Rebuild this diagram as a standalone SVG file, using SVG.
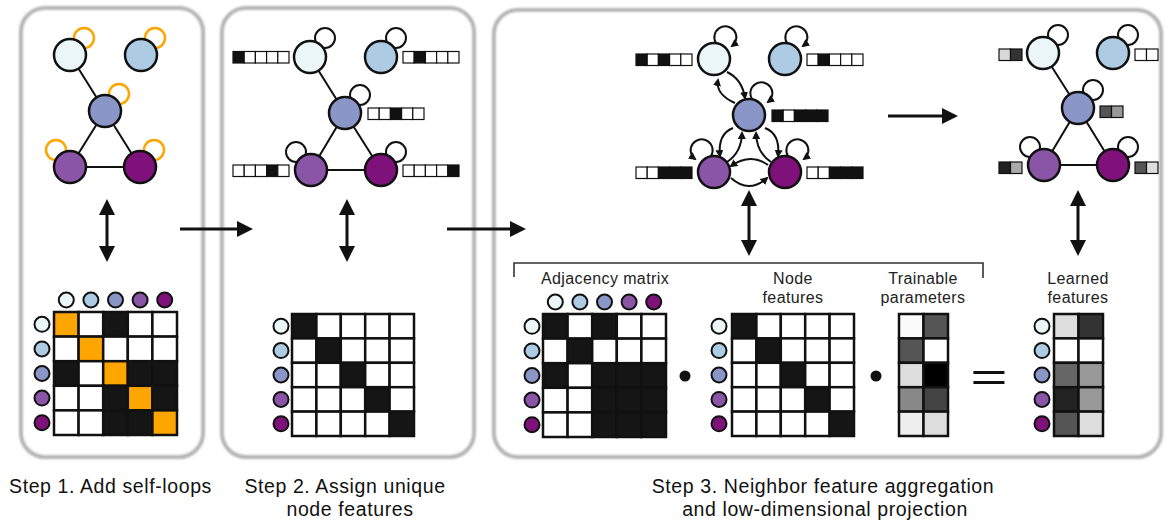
<svg xmlns="http://www.w3.org/2000/svg" width="1166" height="520" viewBox="0 0 1166 520">
<style>
.panel{fill:#fff;stroke:#b3b3b3;stroke-width:4}
.nd{stroke:#111;stroke-width:2.5}
.a{fill:#eaf6f8}.b{fill:#adcbe2}.c{fill:#8a96c8}.d{fill:#8a55a6}.e{fill:#7f127a}
.edge{stroke:#111;stroke-width:2;fill:none}
.oloop{fill:none;stroke:#ffa500;stroke-width:2.5}
.wloop{fill:#fff;stroke:#111;stroke-width:2}
.fv rect{stroke:#111;stroke-width:1.2;fill:#fff}
.fv rect.k{fill:#111}
.mx rect{stroke:#111;stroke-width:2.5;fill:#fff}
.mx rect.k{fill:#151515}
.mx rect.o{fill:#ffa500}
.sc{stroke:#111;stroke-width:2}
.arr{stroke:#111;stroke-width:3;fill:none}
.carr{stroke:#111;stroke-width:2;fill:none;marker-end:url(#sm)}
.lbl{font-family:"Liberation Sans",Arial,sans-serif;font-size:16px;letter-spacing:0.4px;fill:#222;text-anchor:middle}
.cap{font-family:"Liberation Sans",Arial,sans-serif;font-size:19.5px;letter-spacing:0.6px;fill:#111;text-anchor:middle}
</style>
<defs>
<filter id="soft" x="-5%" y="-5%" width="110%" height="110%"><feGaussianBlur stdDeviation="0.9"/></filter>
<marker id="big" viewBox="0 0 16 16" refX="6" refY="8" markerWidth="16" markerHeight="16" markerUnits="userSpaceOnUse" orient="auto-start-reverse"><path d="M0,0 L16,8 L0,16 z" fill="#111"/></marker>
<marker id="sm" viewBox="0 0 8 8" refX="6" refY="4" markerWidth="8" markerHeight="8" markerUnits="userSpaceOnUse" orient="auto"><path d="M0,0 L8,4 L0,8 z" fill="#111"/></marker>
</defs>
<rect width="1166" height="520" fill="#fff"/>
<g id="panels">
<rect class="panel" x="21" y="8" width="182" height="449" rx="24" filter="url(#soft)"/>
<rect class="panel" x="222" y="8" width="252" height="449" rx="24" filter="url(#soft)"/>
<rect class="panel" x="494" y="10" width="667" height="447" rx="24" filter="url(#soft)"/>
</g>

<g id="connectors">
<line class="arr" x1="180" y1="229" x2="243" y2="229" marker-end="url(#big)"/>
<line class="arr" x1="447" y1="229" x2="516" y2="229" marker-end="url(#big)"/>
<line class="arr" x1="888" y1="116" x2="948" y2="116" marker-end="url(#big)"/>
<line class="arr" x1="107" y1="209" x2="107" y2="252" marker-start="url(#big)" marker-end="url(#big)"/>
<line class="arr" x1="347" y1="209" x2="347" y2="252" marker-start="url(#big)" marker-end="url(#big)"/>
<line class="arr" x1="749" y1="200" x2="749" y2="246" marker-start="url(#big)" marker-end="url(#big)"/>
<line class="arr" x1="1078" y1="200" x2="1078" y2="246" marker-start="url(#big)" marker-end="url(#big)"/>
<path d="M514 277 V263 H983 V278" fill="none" stroke="#333" stroke-width="1.6"/>
</g>

<g id="step1-graph">
<circle class="oloop" cx="84" cy="38" r="10"/>
<circle class="oloop" cx="155" cy="38" r="10"/>
<circle class="oloop" cx="119" cy="94" r="10"/>
<circle class="oloop" cx="56" cy="150" r="10"/>
<circle class="oloop" cx="154" cy="150" r="10"/>
<path class="edge" d="M70 55 L105 111 L70 167 L140 167 L105 111"/>
<circle class="nd a" cx="70" cy="55" r="16"/>
<circle class="nd b" cx="141" cy="55" r="16"/>
<circle class="nd c" cx="105" cy="111" r="16"/>
<circle class="nd d" cx="70" cy="167" r="16"/>
<circle class="nd e" cx="140" cy="167" r="16"/>
</g>

<g id="step1-matrix">
<g class="mx">
<rect class="o" x="54" y="312" width="24.6" height="24.6"/><rect x="78.6" y="312" width="24.6" height="24.6"/><rect class="k" x="103.2" y="312" width="24.6" height="24.6"/><rect x="127.8" y="312" width="24.6" height="24.6"/><rect x="152.4" y="312" width="24.6" height="24.6"/>
<rect x="54" y="336.6" width="24.6" height="24.6"/><rect class="o" x="78.6" y="336.6" width="24.6" height="24.6"/><rect x="103.2" y="336.6" width="24.6" height="24.6"/><rect x="127.8" y="336.6" width="24.6" height="24.6"/><rect x="152.4" y="336.6" width="24.6" height="24.6"/>
<rect class="k" x="54" y="361.2" width="24.6" height="24.6"/><rect x="78.6" y="361.2" width="24.6" height="24.6"/><rect class="o" x="103.2" y="361.2" width="24.6" height="24.6"/><rect class="k" x="127.8" y="361.2" width="24.6" height="24.6"/><rect class="k" x="152.4" y="361.2" width="24.6" height="24.6"/>
<rect x="54" y="385.8" width="24.6" height="24.6"/><rect x="78.6" y="385.8" width="24.6" height="24.6"/><rect class="k" x="103.2" y="385.8" width="24.6" height="24.6"/><rect class="o" x="127.8" y="385.8" width="24.6" height="24.6"/><rect class="k" x="152.4" y="385.8" width="24.6" height="24.6"/>
<rect x="54" y="410.4" width="24.6" height="24.6"/><rect x="78.6" y="410.4" width="24.6" height="24.6"/><rect class="k" x="103.2" y="410.4" width="24.6" height="24.6"/><rect class="k" x="127.8" y="410.4" width="24.6" height="24.6"/><rect class="o" x="152.4" y="410.4" width="24.6" height="24.6"/>
</g>
<circle class="sc a" cx="66.3" cy="300" r="7.5"/><circle class="sc b" cx="90.9" cy="300" r="7.5"/><circle class="sc c" cx="115.5" cy="300" r="7.5"/><circle class="sc d" cx="140.1" cy="300" r="7.5"/><circle class="sc e" cx="164.7" cy="300" r="7.5"/>
<circle class="sc a" cx="42" cy="324.3" r="7.5"/><circle class="sc b" cx="42" cy="348.9" r="7.5"/><circle class="sc c" cx="42" cy="373.5" r="7.5"/><circle class="sc d" cx="42" cy="398.1" r="7.5"/><circle class="sc e" cx="42" cy="422.7" r="7.5"/>
</g>

<g id="step2-graph">
<circle class="wloop" cx="325" cy="38" r="10"/>
<circle class="wloop" cx="396" cy="38" r="10"/>
<circle class="wloop" cx="360" cy="95" r="10"/>
<circle class="wloop" cx="296" cy="152" r="10"/>
<circle class="wloop" cx="396" cy="152" r="10"/>
<path class="edge" d="M310 57 L345 113 L311 170 L381 170 L345 113"/>
<circle class="nd a" cx="310" cy="57" r="16"/>
<circle class="nd b" cx="381" cy="57" r="16"/>
<circle class="nd c" cx="345" cy="113" r="16"/>
<circle class="nd d" cx="311" cy="170" r="16"/>
<circle class="nd e" cx="381" cy="170" r="16"/>
<g class="fv">
<rect class="k" x="233" y="51.5" width="11.2" height="11.5"/><rect x="244.2" y="51.5" width="11.2" height="11.5"/><rect x="255.4" y="51.5" width="11.2" height="11.5"/><rect x="266.6" y="51.5" width="11.2" height="11.5"/><rect x="277.8" y="51.5" width="11.2" height="11.5"/>
<rect x="403" y="51.5" width="11.2" height="11.5"/><rect class="k" x="414.2" y="51.5" width="11.2" height="11.5"/><rect x="425.4" y="51.5" width="11.2" height="11.5"/><rect x="436.6" y="51.5" width="11.2" height="11.5"/><rect x="447.8" y="51.5" width="11.2" height="11.5"/>
<rect x="368" y="108" width="11.2" height="11.5"/><rect x="379.2" y="108" width="11.2" height="11.5"/><rect class="k" x="390.4" y="108" width="11.2" height="11.5"/><rect x="401.6" y="108" width="11.2" height="11.5"/><rect x="412.8" y="108" width="11.2" height="11.5"/>
<rect x="233" y="165" width="11.2" height="11.5"/><rect x="244.2" y="165" width="11.2" height="11.5"/><rect x="255.4" y="165" width="11.2" height="11.5"/><rect class="k" x="266.6" y="165" width="11.2" height="11.5"/><rect x="277.8" y="165" width="11.2" height="11.5"/>
<rect x="403" y="165" width="11.2" height="11.5"/><rect x="414.2" y="165" width="11.2" height="11.5"/><rect x="425.4" y="165" width="11.2" height="11.5"/><rect x="436.6" y="165" width="11.2" height="11.5"/><rect class="k" x="447.8" y="165" width="11.2" height="11.5"/>
</g>
</g>

<g id="step2-matrix">
<g class="mx">
<rect class="k" x="292" y="314" width="24.4" height="24.4"/><rect x="316.4" y="314" width="24.4" height="24.4"/><rect x="340.8" y="314" width="24.4" height="24.4"/><rect x="365.2" y="314" width="24.4" height="24.4"/><rect x="389.6" y="314" width="24.4" height="24.4"/>
<rect x="292" y="338.4" width="24.4" height="24.4"/><rect class="k" x="316.4" y="338.4" width="24.4" height="24.4"/><rect x="340.8" y="338.4" width="24.4" height="24.4"/><rect x="365.2" y="338.4" width="24.4" height="24.4"/><rect x="389.6" y="338.4" width="24.4" height="24.4"/>
<rect x="292" y="362.8" width="24.4" height="24.4"/><rect x="316.4" y="362.8" width="24.4" height="24.4"/><rect class="k" x="340.8" y="362.8" width="24.4" height="24.4"/><rect x="365.2" y="362.8" width="24.4" height="24.4"/><rect x="389.6" y="362.8" width="24.4" height="24.4"/>
<rect x="292" y="387.2" width="24.4" height="24.4"/><rect x="316.4" y="387.2" width="24.4" height="24.4"/><rect x="340.8" y="387.2" width="24.4" height="24.4"/><rect class="k" x="365.2" y="387.2" width="24.4" height="24.4"/><rect x="389.6" y="387.2" width="24.4" height="24.4"/>
<rect x="292" y="411.6" width="24.4" height="24.4"/><rect x="316.4" y="411.6" width="24.4" height="24.4"/><rect x="340.8" y="411.6" width="24.4" height="24.4"/><rect x="365.2" y="411.6" width="24.4" height="24.4"/><rect class="k" x="389.6" y="411.6" width="24.4" height="24.4"/>
</g>
<circle class="sc a" cx="281" cy="326.2" r="7.5"/><circle class="sc b" cx="281" cy="350.6" r="7.5"/><circle class="sc c" cx="281" cy="375" r="7.5"/><circle class="sc d" cx="281" cy="399.4" r="7.5"/><circle class="sc e" cx="281" cy="423.8" r="7.5"/>
</g>

<g id="step3-graph">
<path class="carr" d="M716 43 A11 11 0 1 1 732 46"/>
<path class="carr" d="M787 43 A11 11 0 1 1 803 46"/>
<path class="carr" d="M752 99 A11 11 0 1 1 768 102"/>
<path class="carr" d="M711 156 A11 11 0 1 0 695 159"/>
<path class="carr" d="M788 156 A11 11 0 1 1 804 159"/>
<path class="carr" d="M735 103 Q715.5 94.5 718 80"/>
<path class="carr" d="M727 72 Q742 79 745 98"/>
<path class="carr" d="M733 128 Q717.5 134 720 156"/>
<path class="carr" d="M727 162 Q741.5 152.5 742 133"/>
<path class="carr" d="M771 162 Q756.5 152.5 756 133"/>
<path class="carr" d="M765 128 Q780.5 134 778 156"/>
<path class="carr" d="M768 165 Q750.5 152.5 731 166"/>
<path class="carr" d="M731 178 Q749 194 767 178"/>
<circle class="nd a" cx="714" cy="59" r="16"/>
<circle class="nd b" cx="785" cy="59" r="16"/>
<circle class="nd c" cx="749" cy="115" r="16"/>
<circle class="nd d" cx="714" cy="172" r="16"/>
<circle class="nd e" cx="785" cy="172" r="16"/>
<g class="fv">
<rect class="k" x="636" y="54" width="11.2" height="11.5"/><rect x="647.2" y="54" width="11.2" height="11.5"/><rect class="k" x="658.4" y="54" width="11.2" height="11.5"/><rect x="669.6" y="54" width="11.2" height="11.5"/><rect x="680.8" y="54" width="11.2" height="11.5"/>
<rect x="807" y="54" width="11.2" height="11.5"/><rect class="k" x="818.2" y="54" width="11.2" height="11.5"/><rect x="829.4" y="54" width="11.2" height="11.5"/><rect x="840.6" y="54" width="11.2" height="11.5"/><rect x="851.8" y="54" width="11.2" height="11.5"/>
<rect class="k" x="772" y="110" width="11.2" height="11.5"/><rect x="783.2" y="110" width="11.2" height="11.5"/><rect class="k" x="794.4" y="110" width="11.2" height="11.5"/><rect class="k" x="805.6" y="110" width="11.2" height="11.5"/><rect class="k" x="816.8" y="110" width="11.2" height="11.5"/>
<rect x="636" y="167" width="11.2" height="11.5"/><rect x="647.2" y="167" width="11.2" height="11.5"/><rect class="k" x="658.4" y="167" width="11.2" height="11.5"/><rect class="k" x="669.6" y="167" width="11.2" height="11.5"/><rect class="k" x="680.8" y="167" width="11.2" height="11.5"/>
<rect x="807" y="167" width="11.2" height="11.5"/><rect x="818.2" y="167" width="11.2" height="11.5"/><rect class="k" x="829.4" y="167" width="11.2" height="11.5"/><rect class="k" x="840.6" y="167" width="11.2" height="11.5"/><rect class="k" x="851.8" y="167" width="11.2" height="11.5"/>
</g>
</g>

<g id="result-graph">
<circle class="wloop" cx="1058" cy="35" r="10"/>
<circle class="wloop" cx="1128" cy="35" r="10"/>
<circle class="wloop" cx="1093" cy="90" r="10"/>
<circle class="wloop" cx="1030" cy="147" r="10"/>
<circle class="wloop" cx="1128" cy="147" r="10"/>
<path class="edge" d="M1043 53 L1078 108 L1044 165 L1113 165 L1078 108"/>
<circle class="nd a" cx="1043" cy="53" r="16"/>
<circle class="nd b" cx="1113" cy="53" r="16"/>
<circle class="nd c" cx="1078" cy="108" r="16"/>
<circle class="nd d" cx="1044" cy="165" r="16"/>
<circle class="nd e" cx="1113" cy="165" r="16"/>
<g class="fv">
<rect x="999" y="49" width="11.5" height="11.5" style="fill:#d9d9d9"/><rect x="1010.5" y="49" width="11.5" height="11.5" style="fill:#333"/>
<rect x="1135" y="49" width="11.5" height="11.5"/><rect x="1146.5" y="49" width="11.5" height="11.5"/>
<rect x="1100" y="106" width="11.5" height="11.5" style="fill:#555"/><rect x="1111.5" y="106" width="11.5" height="11.5" style="fill:#999"/>
<rect x="999" y="162" width="11.5" height="11.5" style="fill:#222"/><rect x="1010.5" y="162" width="11.5" height="11.5" style="fill:#aaa"/>
<rect x="1135" y="162" width="11.5" height="11.5" style="fill:#555"/><rect x="1146.5" y="162" width="11.5" height="11.5" style="fill:#ddd"/>
</g>
</g>

<g id="adjacency-matrix">
<text class="lbl" x="605" y="284">Adjacency matrix</text>
<g class="mx">
<rect class="k" x="543" y="314" width="24.6" height="24.6"/><rect x="567.6" y="314" width="24.6" height="24.6"/><rect class="k" x="592.2" y="314" width="24.6" height="24.6"/><rect x="616.8" y="314" width="24.6" height="24.6"/><rect x="641.4" y="314" width="24.6" height="24.6"/>
<rect x="543" y="338.6" width="24.6" height="24.6"/><rect class="k" x="567.6" y="338.6" width="24.6" height="24.6"/><rect x="592.2" y="338.6" width="24.6" height="24.6"/><rect x="616.8" y="338.6" width="24.6" height="24.6"/><rect x="641.4" y="338.6" width="24.6" height="24.6"/>
<rect class="k" x="543" y="363.2" width="24.6" height="24.6"/><rect x="567.6" y="363.2" width="24.6" height="24.6"/><rect class="k" x="592.2" y="363.2" width="24.6" height="24.6"/><rect class="k" x="616.8" y="363.2" width="24.6" height="24.6"/><rect class="k" x="641.4" y="363.2" width="24.6" height="24.6"/>
<rect x="543" y="387.8" width="24.6" height="24.6"/><rect x="567.6" y="387.8" width="24.6" height="24.6"/><rect class="k" x="592.2" y="387.8" width="24.6" height="24.6"/><rect class="k" x="616.8" y="387.8" width="24.6" height="24.6"/><rect class="k" x="641.4" y="387.8" width="24.6" height="24.6"/>
<rect x="543" y="412.4" width="24.6" height="24.6"/><rect x="567.6" y="412.4" width="24.6" height="24.6"/><rect class="k" x="592.2" y="412.4" width="24.6" height="24.6"/><rect class="k" x="616.8" y="412.4" width="24.6" height="24.6"/><rect class="k" x="641.4" y="412.4" width="24.6" height="24.6"/>
</g>
<circle class="sc a" cx="555.3" cy="302" r="7.5"/><circle class="sc b" cx="579.9" cy="302" r="7.5"/><circle class="sc c" cx="604.5" cy="302" r="7.5"/><circle class="sc d" cx="629.1" cy="302" r="7.5"/><circle class="sc e" cx="653.7" cy="302" r="7.5"/>
<circle class="sc a" cx="532" cy="326.3" r="7.5"/><circle class="sc b" cx="532" cy="350.9" r="7.5"/><circle class="sc c" cx="532" cy="375.5" r="7.5"/><circle class="sc d" cx="532" cy="400.1" r="7.5"/><circle class="sc e" cx="532" cy="424.7" r="7.5"/>
</g>

<circle id="dot1" cx="685" cy="376" r="5.5" fill="#111"/>

<g id="node-features">
<text class="lbl" x="793" y="284">Node<tspan x="793" dy="19">features</tspan></text>
<g class="mx">
<rect class="k" x="732" y="314" width="24.4" height="24.4"/><rect x="756.4" y="314" width="24.4" height="24.4"/><rect x="780.8" y="314" width="24.4" height="24.4"/><rect x="805.2" y="314" width="24.4" height="24.4"/><rect x="829.6" y="314" width="24.4" height="24.4"/>
<rect x="732" y="338.4" width="24.4" height="24.4"/><rect class="k" x="756.4" y="338.4" width="24.4" height="24.4"/><rect x="780.8" y="338.4" width="24.4" height="24.4"/><rect x="805.2" y="338.4" width="24.4" height="24.4"/><rect x="829.6" y="338.4" width="24.4" height="24.4"/>
<rect x="732" y="362.8" width="24.4" height="24.4"/><rect x="756.4" y="362.8" width="24.4" height="24.4"/><rect class="k" x="780.8" y="362.8" width="24.4" height="24.4"/><rect x="805.2" y="362.8" width="24.4" height="24.4"/><rect x="829.6" y="362.8" width="24.4" height="24.4"/>
<rect x="732" y="387.2" width="24.4" height="24.4"/><rect x="756.4" y="387.2" width="24.4" height="24.4"/><rect x="780.8" y="387.2" width="24.4" height="24.4"/><rect class="k" x="805.2" y="387.2" width="24.4" height="24.4"/><rect x="829.6" y="387.2" width="24.4" height="24.4"/>
<rect x="732" y="411.6" width="24.4" height="24.4"/><rect x="756.4" y="411.6" width="24.4" height="24.4"/><rect x="780.8" y="411.6" width="24.4" height="24.4"/><rect x="805.2" y="411.6" width="24.4" height="24.4"/><rect class="k" x="829.6" y="411.6" width="24.4" height="24.4"/>
</g>
<circle class="sc a" cx="719" cy="326.2" r="7.5"/><circle class="sc b" cx="719" cy="350.6" r="7.5"/><circle class="sc c" cx="719" cy="375" r="7.5"/><circle class="sc d" cx="719" cy="399.4" r="7.5"/><circle class="sc e" cx="719" cy="423.8" r="7.5"/>
</g>

<circle id="dot2" cx="876" cy="376" r="5.5" fill="#111"/>

<g id="trainable-parameters">
<text class="lbl" x="923" y="284">Trainable<tspan x="923" dy="19">parameters</tspan></text>
<g class="mx">
<rect x="899" y="314" width="24.5" height="24.4" style="fill:#fafafa"/><rect x="923.5" y="314" width="24.5" height="24.4" style="fill:#555"/>
<rect x="899" y="338.4" width="24.5" height="24.4" style="fill:#555"/><rect x="923.5" y="338.4" width="24.5" height="24.4" style="fill:#fff"/>
<rect x="899" y="362.8" width="24.5" height="24.4" style="fill:#ddd"/><rect x="923.5" y="362.8" width="24.5" height="24.4" style="fill:#000"/>
<rect x="899" y="387.2" width="24.5" height="24.4" style="fill:#888"/><rect x="923.5" y="387.2" width="24.5" height="24.4" style="fill:#444"/>
<rect x="899" y="411.6" width="24.5" height="24.4" style="fill:#eee"/><rect x="923.5" y="411.6" width="24.5" height="24.4" style="fill:#ddd"/>
</g>
</g>

<text id="equals" transform="translate(989,391) scale(1.6,1)" font-family="Liberation Sans, sans-serif" font-size="40" fill="#111" text-anchor="middle">=</text>

<g id="learned-features">
<text class="lbl" x="1078" y="284">Learned<tspan x="1078" dy="19">features</tspan></text>
<g class="mx">
<rect x="1054" y="314" width="24.5" height="24.4" style="fill:#ddd"/><rect x="1078.5" y="314" width="24.5" height="24.4" style="fill:#333"/>
<rect x="1054" y="338.4" width="24.5" height="24.4" style="fill:#fff"/><rect x="1078.5" y="338.4" width="24.5" height="24.4" style="fill:#fff"/>
<rect x="1054" y="362.8" width="24.5" height="24.4" style="fill:#666"/><rect x="1078.5" y="362.8" width="24.5" height="24.4" style="fill:#999"/>
<rect x="1054" y="387.2" width="24.5" height="24.4" style="fill:#222"/><rect x="1078.5" y="387.2" width="24.5" height="24.4" style="fill:#999"/>
<rect x="1054" y="411.6" width="24.5" height="24.4" style="fill:#555"/><rect x="1078.5" y="411.6" width="24.5" height="24.4" style="fill:#ddd"/>
</g>
<circle class="sc a" cx="1042" cy="326.2" r="7.5"/><circle class="sc b" cx="1042" cy="350.6" r="7.5"/><circle class="sc c" cx="1042" cy="375" r="7.5"/><circle class="sc d" cx="1042" cy="399.4" r="7.5"/><circle class="sc e" cx="1042" cy="423.8" r="7.5"/>
</g>

<g id="captions">
<text class="cap" x="110.5" y="493">Step 1. Add self-loops</text>
<text class="cap" x="345" y="493">Step 2. Assign unique<tspan x="350" dy="22.5">node features</tspan></text>
<text class="cap" x="823" y="493">Step 3. Neighbor feature aggregation<tspan x="825" dy="22.5">and low-dimensional projection</tspan></text>
</g>
</svg>
